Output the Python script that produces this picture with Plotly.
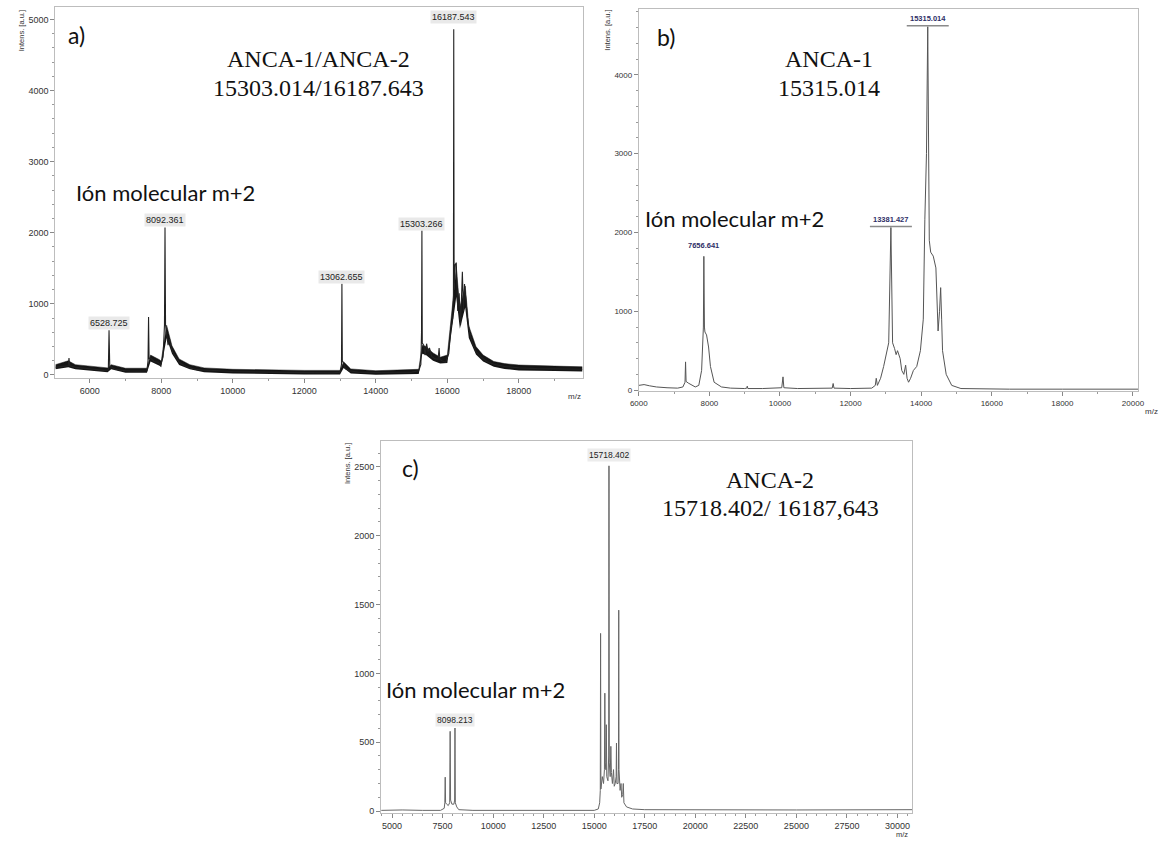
import plotly.graph_objects as go

W, H = 1165, 843

# ---------------- Panel a data (m/z, intensity) ----------------
a_mz = [5040, 5200, 5400, 5420, 5440, 5600, 5800, 6000, 6200, 6400,
        6520, 6540, 6560, 6620, 6700, 7000, 7300, 7600, 7630, 7645,
        7660, 7700, 7800, 7900, 7980, 8050, 8090, 8105, 8120, 8150,
        8190, 8228, 8260, 8320, 8400, 8500, 8650, 8800, 9000, 9500,
        10000, 11000, 12000, 12800, 13000, 13040, 13052, 13064, 13100, 13150,
        13250, 13500, 14000, 14500, 15000, 15200, 15260, 15278, 15289, 15300,
        15340, 15380, 15420, 15460, 15500, 15560, 15650, 15740, 15770, 15790,
        15850, 15950, 16040, 16100, 16150, 16170, 16179, 16190, 16220, 16250,
        16290, 16330, 16370, 16420, 16450, 16480, 16520, 16560, 16620, 16700,
        16800, 16950, 17100, 17300, 17600, 18000, 18500, 19000, 19780]
a_int = [110, 120, 130, 240, 130, 110, 100, 90, 75, 65,
         70, 630, 120, 110, 80, 60, 55, 60, 200, 816,
         230, 240, 190, 180, 140, 250, 700, 2075, 700, 560,
         420, 513, 420, 320, 250, 180, 130, 100, 75, 60,
         50, 40, 35, 30, 40, 150, 1283, 200, 160, 90,
         60, 40, 35, 35, 40, 60, 150, 600, 2030, 450,
         420, 280, 440, 330, 380, 260, 230, 220, 380, 220,
         200, 180, 300, 650, 800, 1100, 4860, 1200, 1550, 1580,
         900, 1150, 700, 1450, 900, 1280, 1050, 820, 600, 450,
         330, 250, 190, 150, 120, 100, 90, 85, 80]
# noise envelope of the thick baseline in panel a
a_env_mz = [5040, 5400, 5600, 6000, 6500, 6600, 7000, 7600, 7700, 7950,
            8000, 8150, 8300, 8500, 8800, 9200, 10000, 12000, 13000, 13100,
            13300, 14000, 15200, 15300, 15400, 15600, 15800, 16000, 16100, 16250,
            16350, 16500, 16600, 16800, 17000, 17300, 17600, 18000, 19000, 19780]
a_env_lo = [80, 110, 80, 60, 40, 80, 30, 30, 190, 130,
            110, 520, 300, 140, 80, 40, 22, 8, 8, 100,
            20, 5, 15, 300, 280, 200, 160, 170, 560, 1100,
            650, 950, 520, 290, 190, 115, 85, 65, 55, 50]
a_env_hi = [145, 200, 145, 125, 100, 145, 95, 95, 280, 215,
            195, 700, 410, 225, 145, 100, 80, 65, 65, 185,
            85, 60, 80, 420, 400, 310, 250, 280, 760, 1500,
            950, 1250, 690, 400, 280, 190, 160, 140, 125, 115]
a_labels = ["6528.725", "8092.361", "13062.655", "15303.266", "16187.543"]
a_label_mz = [6540, 8105, 13052, 15289, 16179]
a_label_int = [630, 2075, 1283, 2030, 4860]
a_label_shift = [0, 0, 0, 0, 5]

# ---------------- Panel b data ----------------
b_mz = [6000, 6150, 6300, 6500, 6800, 7100, 7250, 7310, 7325, 7340,
        7400, 7500, 7600, 7700, 7780, 7830, 7843, 7860, 7874, 7920,
        7977, 8030, 8134, 8343, 8600, 9000, 9060, 9073, 9090, 9500,
        10050, 10086, 10110, 10500, 11000, 11480, 11506, 11530, 12000, 12600,
        12700, 12727, 12760, 12850, 12936, 13080, 13142, 13190, 13247, 13290,
        13330, 13404, 13450, 13508, 13560, 13600, 13643, 13700, 13780, 13874,
        13978, 14060, 14104, 14150, 14186, 14230, 14269, 14342, 14417, 14460,
        14479, 14520, 14552, 14580, 14605, 14708, 14865, 15126, 15600, 16500,
        18000, 20150]
b_int = [60, 70, 55, 40, 30, 25, 40, 100, 358, 110,
         90, 60, 40, 60, 250, 800, 1697, 800, 737, 700,
         547, 300, 100, 40, 25, 20, 25, 50, 20, 20,
         30, 168, 30, 20, 18, 25, 84, 25, 20, 25,
         60, 150, 60, 150, 300, 600, 2063, 600, 526, 450,
         500, 400, 250, 200, 316, 150, 100, 150, 250, 300,
         500, 900, 2168, 3000, 4610, 1900, 1750, 1700, 1550, 1100,
         750, 1000, 1300, 900, 500, 200, 60, 20, 15, 12,
         12, 12]
b_labels = ["7656.641", "13381.427", "15315.014"]
b_label_mz = [7843, 13142, 14186]
b_label_int = [1697, 2063, 4610]
b_label_shift = [4, 1, 2]
b_label_underlined = [False, True, True]

# ---------------- Panel c data ----------------
c_mz = [4460, 5500, 6500, 7400, 7580, 7610, 7629, 7648, 7700, 7780,
        7850, 7873, 7895, 7960, 8060, 8095, 8112, 8130, 8200, 8300,
        9000, 11000, 13000, 14500, 15000, 15200, 15270, 15300, 15315, 15330,
        15400, 15460, 15505, 15525, 15545, 15575, 15598, 15620, 15680, 15715,
        15730, 15745, 15790, 15823, 15850, 15900, 15955, 15990, 16040, 16085,
        16101, 16120, 16180, 16200, 16213, 16226, 16280, 16325, 16360, 16410,
        16438, 16470, 16600, 16900, 17500, 20000, 25000, 30730]
c_int = [5, 8, 5, 5, 20, 60, 246, 60, 50, 40,
         60, 579, 80, 50, 50, 80, 603, 60, 30, 10,
         5, 5, 5, 5, 5, 15, 60, 150, 1290, 160,
         250, 200, 300, 856, 350, 300, 627, 250, 220, 400,
         2507, 350, 250, 470, 280, 200, 301, 180, 200, 250,
         494, 200, 200, 300, 1459, 300, 150, 200, 100, 120,
         200, 60, 30, 15, 10, 8, 8, 10]
c_labels = ["8098.213", "15718.402"]
c_label_mz = [8112, 15730]
c_label_int = [603, 2507]
c_label_shift = [1, 4]

assert len(a_mz) == len(a_int)
assert len(a_env_mz) == len(a_env_lo) == len(a_env_hi)
assert len(b_mz) == len(b_int)
assert len(c_mz) == len(c_int)

fig = go.Figure()

# panel a
fig.add_trace(go.Scatter(x=a_env_mz, y=a_env_lo, mode="lines", line=dict(width=0, color="#111"),
                         xaxis="x", yaxis="y", hoverinfo="skip", showlegend=False))
fig.add_trace(go.Scatter(x=a_env_mz, y=a_env_hi, mode="lines", line=dict(width=0.5, color="#111"),
                         fill="tonexty", fillcolor="#151515",
                         xaxis="x", yaxis="y", hoverinfo="skip", showlegend=False))
fig.add_trace(go.Scatter(x=a_mz, y=a_int, mode="lines", line=dict(width=1.1, color="#222"),
                         xaxis="x", yaxis="y", showlegend=False))
# panel b
fig.add_trace(go.Scatter(x=b_mz, y=b_int, mode="lines", line=dict(width=1, color="#555"),
                         xaxis="x2", yaxis="y2", showlegend=False))
# panel c
fig.add_trace(go.Scatter(x=c_mz, y=c_int, mode="lines", line=dict(width=1, color="#666"),
                         xaxis="x3", yaxis="y3", showlegend=False))


def dx(l, r):
    return [l / W, r / W]


def dy(top, bottom):
    return [1 - bottom / H, 1 - top / H]


def axis_style(size):
    return dict(showline=True, mirror=True, linecolor="#bdbdbd", linewidth=1,
                ticks="outside", ticklen=4, tickcolor="#888", showgrid=False,
                zeroline=False, tickformat="d",
                tickfont=dict(family="Liberation Sans, Arial", size=size, color="#333"))


fig.update_layout(
    width=W, height=H, margin=dict(l=0, r=0, t=0, b=0),
    paper_bgcolor="white", plot_bgcolor="white", showlegend=False,
    xaxis=dict(domain=dx(47, 581), range=[5040, 19780], anchor="y", tick0=0, dtick=2000,
               minor=dict(dtick=1000, ticklen=2, tickcolor="#999", ticks="outside"), **axis_style(9)),
    yaxis=dict(domain=dy(7, 380), range=[-45, 5175], anchor="x", tick0=0, dtick=1000,
               minor=dict(dtick=200, ticklen=2, tickcolor="#999", ticks="outside"), **axis_style(9)),
    xaxis2=dict(domain=dx(638, 1144), range=[6000, 20150], anchor="y2", tick0=0, dtick=2000,
                minor=dict(dtick=1000, ticklen=2, tickcolor="#999", ticks="outside"), **axis_style(8)),
    yaxis2=dict(domain=dy(9, 393), range=[-13, 4835], anchor="x2", tick0=0, dtick=1000,
                minor=dict(dtick=200, ticklen=2, tickcolor="#999", ticks="outside"), **axis_style(8)),
    xaxis3=dict(domain=dx(377, 915), range=[4460, 30730], anchor="y3", tick0=0, dtick=2500,
                minor=dict(dtick=500, ticklen=2, tickcolor="#999", ticks="outside"), **axis_style(9)),
    yaxis3=dict(domain=dy(443, 817), range=[-15, 2688], anchor="x3", tick0=0, dtick=500,
                minor=dict(dtick=100, ticklen=2, tickcolor="#999", ticks="outside"), **axis_style(9)),
)

ann = []


def ptext(px, py, text, size, family, color="#111", xanchor="center", yanchor="middle", angle=0):
    ann.append(dict(x=px / W, y=1 - py / H, xref="paper", yref="paper", text=text,
                    showarrow=False, xanchor=xanchor, yanchor=yanchor, textangle=angle,
                    font=dict(size=size, family=family, color=color)))


serif = "Liberation Serif, Times New Roman"
sans = "Lato, Open Sans, sans-serif"
arial = "Liberation Sans, Arial"

# panel a texts
ptext(68, 35, "a)", 23, sans)
ptext(314, 59, "ANCA-1/ANCA-2", 24, serif)
ptext(314, 88, "15303.014/16187.643", 24, serif)
ptext(66, 193, "Ión molecular m+2", 22, sans, xanchor="left")
ptext(13, 8, "Intens. [a.u.]", 7.5, arial, color="#333", yanchor="top", angle=-90)
ptext(573, 398, "m/z", 8, arial, color="#333")

# panel b texts
ptext(666, 37, "b)", 23, sans)
ptext(831, 59, "ANCA-1", 24, serif)
ptext(831, 88, "15315.014", 24, serif)
ptext(642, 220, "Ión molecular m+2", 22, sans, xanchor="left")
ptext(606, 8, "Intens. [a.u.]", 7.5, arial, color="#333", yanchor="top", angle=-90)
ptext(1157, 413, "m/z", 8, arial, color="#333")

# panel c texts
ptext(407, 470, "c)", 23, sans)
ptext(771, 482, "ANCA-2", 24, serif)
ptext(771, 510, "15718.402/ 16187,643", 24, serif)
ptext(380, 693, "Ión molecular m+2", 22, sans, xanchor="left")
ptext(343, 443, "Intens. [a.u.]", 7.5, arial, color="#333", yanchor="top", angle=-90)
ptext(905, 838, "m/z", 7.5, arial, color="#333")

# peak labels
for t, x, y, s in zip(a_labels, a_label_mz, a_label_int, a_label_shift):
    ann.append(dict(x=x, y=y, xref="x", yref="y", text=t, showarrow=False, yanchor="bottom",
                    yshift=s, bgcolor="#e9e9e9", borderpad=1,
                    font=dict(size=9, family=arial, color="#222")))
for t, x, y, s in zip(b_labels, b_label_mz, b_label_int, b_label_shift):
    ann.append(dict(x=x, y=y, xref="x2", yref="y2", text="<b>" + t + "</b>", showarrow=False,
                    yanchor="bottom", yshift=s, borderpad=1,
                    font=dict(size=7.5, family=arial, color="#2e2e66")))
for t, x, y, s in zip(c_labels, c_label_mz, c_label_int, c_label_shift):
    ann.append(dict(x=x, y=y, xref="x3", yref="y3", text=t, showarrow=False, yanchor="bottom",
                    yshift=s, bgcolor="#ececec", borderpad=1,
                    font=dict(size=8.5, family=arial, color="#222")))
fig.update_layout(annotations=ann)

# underline bars for panel b peak labels
shapes = []
for x, y, u in zip(b_label_mz, b_label_int, b_label_underlined):
    if not u:
        continue
    shapes.append(dict(type="line", xref="x2", yref="y2", xsizemode="pixel", ysizemode="pixel",
                       xanchor=x, yanchor=y, x0=-21, x1=21, y0=1, y1=1,
                       line=dict(color="#8a8a8a", width=1.5)))
fig.update_layout(shapes=shapes)

fig.write_html("out.html", config={"displayModeBar": False},
               post_script="document.body.style.margin='0px';document.body.style.overflow='hidden';")
